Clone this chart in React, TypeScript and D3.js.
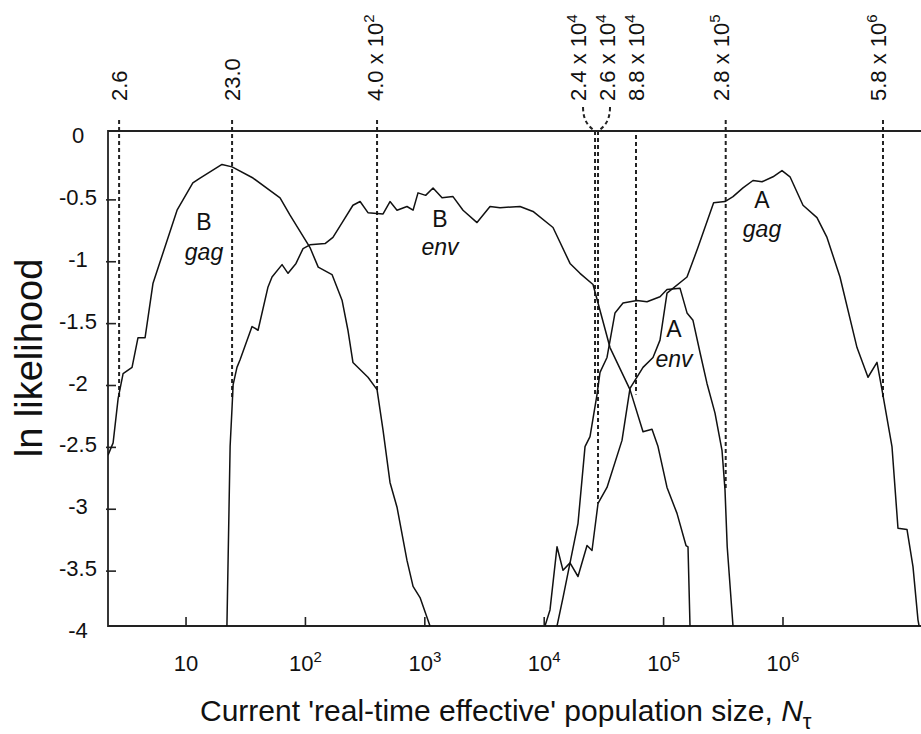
import React, { useRef, useEffect } from 'react';
import * as d3 from 'd3';

const W = 921;
const H = 734;

// axis ticks
const yTicks = [0, -0.5, -1, -1.5, -2, -2.5, -3, -3.5, -4];
const yTickText = ['0', '-0.5', '-1', '-1.5', '-2', '-2.5', '-3', '-3.5', '-4'];
const xTicks = [10, 1e2, 1e3, 1e4, 1e5, 1e6];
const xTickPow = ['', '2', '3', '4', '5', '6'];

// curves, [N, ln likelihood]
const bGag: [number, number][] = [
  [2.22, -2.62], [2.45, -2.52], [2.7, -2.16], [2.97, -1.96], [3.53, -1.91],
  [3.96, -1.67], [4.54, -1.67], [5.29, -1.23], [8.41, -0.64], [11.4, -0.42],
  [13.1, -0.38], [20.0, -0.27], [24.3, -0.29], [36.4, -0.38], [61.3, -0.54],
  [74.3, -0.68], [109, -0.94], [128, -1.1], [167, -1.16], [203, -1.37],
  [227, -1.61], [250, -1.87], [334, -1.99], [398, -2.09], [447, -2.42],
  [511, -2.84], [585, -3.04], [709, -3.47], [797, -3.68], [912, -3.77], [1105, -4.0],
];

const bEnv: [number, number][] = [
  [22.0, -4.0], [23.4, -2.55], [24.3, -2.23], [24.8, -2.05], [26.7, -1.91],
  [28.3, -1.85], [35.7, -1.58], [40.1, -1.61], [48.6, -1.26], [52.5, -1.18],
  [63.7, -1.08], [71.5, -1.15], [83.4, -1.07], [95.5, -0.95], [109, -0.92],
  [146, -0.91], [170, -0.86], [203, -0.74], [250, -0.6], [287, -0.57],
  [334, -0.66], [447, -0.67], [511, -0.57], [585, -0.64], [709, -0.61],
  [797, -0.64], [877, -0.5], [1016, -0.52], [1172, -0.46], [1394, -0.54],
  [1722, -0.53], [2089, -0.64], [2736, -0.74], [3517, -0.61], [4265, -0.62],
  [6270, -0.61], [8059, -0.65], [11850, -0.78], [16450, -1.07], [19940, -1.15],
  [25630, -1.24], [28230, -1.39], [35570, -1.75], [52310, -2.09], [67220, -2.43],
  [79970, -2.41], [89790, -2.55], [106800, -2.88], [129500, -3.09], [154000, -3.35],
  [160100, -3.36], [166400, -4.0],
];

const aGag: [number, number][] = [
  [10150, -4.0], [11180, -3.87], [12800, -3.36], [14370, -3.55], [16450, -3.49],
  [19190, -3.6], [22830, -3.35], [25140, -3.39], [28230, -3.01], [33570, -2.88],
  [44830, -2.5], [52310, -2.08], [67220, -1.91], [81530, -1.83], [93290, -1.69],
  [106800, -1.31], [157100, -1.18], [194200, -0.94], [262400, -0.58], [326800, -0.57],
  [381300, -0.53], [462300, -0.46], [560800, -0.4], [667200, -0.41], [824800, -0.37],
  [980900, -0.32], [1.145e6, -0.37], [1.471e6, -0.6], [1.926e6, -0.7], [2.336e6, -0.86],
  [3.002e6, -1.18], [4.168e6, -1.75], [5.152e6, -1.99], [6.128e6, -1.87], [6.747e6, -2.09],
  [8.183e6, -2.55], [9.186e6, -3.21], [1.093e7, -3.22], [1.227e7, -3.52], [1.351e7, -3.95],
  [1.38e7, -4.0],
];

const aEnv: [number, number][] = [
  [12800, -4.0], [14370, -3.77], [19190, -3.17], [21970, -2.55], [24190, -2.47],
  [27680, -2.13], [29330, -1.95], [33570, -1.83], [39170, -1.47], [45710, -1.39],
  [59860, -1.37], [72610, -1.38], [93290, -1.34], [106800, -1.28], [137200, -1.27],
  [157100, -1.47], [176200, -1.53], [201800, -1.79], [230900, -2.04], [269500, -2.28],
  [308400, -2.58], [326800, -2.9], [341000, -3.36], [381300, -4.0],
];

// dashed markers
const markerText = ['2.6', '23.0', '4.0 x 10', '2.4 x 10', '2.6 x 10', '8.8 x 10', '2.8 x 10', '5.8 x 10'];
const markerPow = ['', '', '2', '4', '4', '4', '5', '6'];
const markerAt = [2.75, 24.3, 398, 26650, 28230, 58720, 331300, 6.88e6];
const markerEnd = [-2.16, -2.16, -2.11, -2.15, -3.01, -2.13, -2.9, -2.17];

// curve labels
const curveName = ['B', 'B', 'A', 'A'];
const curveGene = ['gag', 'env', 'gag', 'env'];

const FONT = '"Liberation Sans", Arial, Helvetica, sans-serif';

const App = () => {
  const ref = useRef<SVGSVGElement>(null);

  useEffect(() => {
    const svg = d3.select(ref.current);
    svg.selectAll('*').remove();
    svg.attr('font-family', FONT);

    const x = d3.scaleLog().domain([2.22, 1.432e7]).range([108, 921]);
    const y = d3.scaleLinear().domain([0, -4]).range([131, 626]);
    const [x0, x1] = x.range();
    const [y0, y1] = y.range();

    svg.append('rect').attr('width', W).attr('height', H).attr('fill', '#fff');

    // frame
    const frame = svg.append('g').attr('stroke', '#222').attr('stroke-width', 1.8).attr('fill', 'none');
    frame.append('path').attr('d', `M${x1},${y0}H${x0}V${y1}H${x1}`);

    // x ticks
    const xt = svg.append('g');
    xTicks.forEach((v, i) => {
      xt.append('line')
        .attr('x1', x(v)).attr('x2', x(v))
        .attr('y1', y1).attr('y2', y1 - 9)
        .attr('stroke', '#222').attr('stroke-width', 1.6);
      const t = xt.append('text')
        .attr('x', x(v)).attr('y', y1 + 45)
        .attr('text-anchor', 'middle')
        .attr('font-size', 22)
        .attr('fill', '#111');
      t.append('tspan').text('10');
      if (xTickPow[i]) t.append('tspan').attr('dy', -9).attr('font-size', 15).text(xTickPow[i]);
    });

    // y ticks
    const yt = svg.append('g');
    yTicks.forEach((v, i) => {
      if (i > 0 && i < yTicks.length - 1) {
        yt.append('line')
          .attr('x1', x0 - 2).attr('x2', x0 + 8)
          .attr('y1', y(v) + 7).attr('y2', y(v) + 7)
          .attr('stroke', '#222').attr('stroke-width', 1.6);
      }
      yt.append('text')
        .attr('x', 78).attr('y', y(v) + 12)
        .attr('text-anchor', 'middle')
        .attr('font-size', 22)
        .attr('fill', '#111')
        .text(yTickText[i]);
    });

    // axis titles
    const xl = svg.append('text')
      .attr('x', 200).attr('y', 721)
      .attr('font-size', 30).attr('fill', '#111');
    xl.append('tspan').text("Current 'real-time effective' population size, ");
    xl.append('tspan').attr('font-style', 'italic').text('N');
    xl.append('tspan').attr('dy', 8).attr('font-size', 22).text('τ');

    svg.append('text')
      .attr('transform', 'translate(42,358) rotate(-90)')
      .attr('text-anchor', 'middle')
      .attr('font-size', 38).attr('fill', '#111')
      .text('ln likelihood');

    // dashed markers
    const labelShift = [0, 0, -2, -17, 9, 0, -4, -5];
    const dash = svg.append('g')
      .attr('stroke', '#222').attr('stroke-width', 2)
      .attr('stroke-dasharray', '4,3').attr('fill', 'none');
    markerAt.forEach((v, i) => {
      const px = x(v);
      let top = y0 - 11;
      if (i === 5) top = y0 + 4;
      if (i === 3 || i === 4) top = y0;
      dash.append('line')
        .attr('x1', px).attr('x2', px)
        .attr('y1', top).attr('y2', y(markerEnd[i]));
      const lx = px + labelShift[i];
      if (i === 3 || i === 4) {
        const sx = lx + (i === 3 ? 5 : 3);
        dash.append('path')
          .attr('d', `M${sx},${y0 - 24}C${sx},${y0 - 10} ${(sx + px) / 2},${y0 - 4} ${px},${y0}`);
      }
      const t = svg.append('text')
        .attr('transform', `translate(${lx},101) rotate(-90)`)
        .attr('dy', '0.35em')
        .attr('font-size', 22).attr('fill', '#111');
      t.append('tspan').text(markerText[i]);
      if (markerPow[i]) t.append('tspan').attr('dy', -9).attr('font-size', 15).text(markerPow[i]);
    });

    // curves
    svg.append('clipPath').attr('id', 'plot')
      .append('rect').attr('x', x0).attr('y', y0 - 2).attr('width', x1 - x0).attr('height', y1 - y0 + 2);
    const line = d3.line<[number, number]>().x(d => x(d[0])).y(d => y(d[1]));
    const curves = svg.append('g').attr('clip-path', 'url(#plot)')
      .attr('fill', 'none').attr('stroke', '#111').attr('stroke-width', 1.5)
      .attr('stroke-linejoin', 'round');
    [bGag, bEnv, aGag, aEnv].forEach(s => {
      curves.append('path').attr('d', line(s));
    });

    // curve labels (placed beside each curve)
    const labelPos = [[204, 230, 260], [440, 227, 255], [762, 208, 237], [674, 337, 367]];
    labelPos.forEach((p, i) => {
      svg.append('text')
        .attr('x', p[0]).attr('y', p[1])
        .attr('text-anchor', 'middle').attr('font-size', 23).attr('fill', '#111')
        .text(curveName[i]);
      svg.append('text')
        .attr('x', p[0]).attr('y', p[2])
        .attr('text-anchor', 'middle').attr('font-size', 23).attr('font-style', 'italic').attr('fill', '#111')
        .text(curveGene[i]);
    });
  }, []);

  return (
    <svg ref={ref} width={W} height={H} style={{ position: 'absolute', left: 0, top: 0 }} />
  );
};

export default App;
